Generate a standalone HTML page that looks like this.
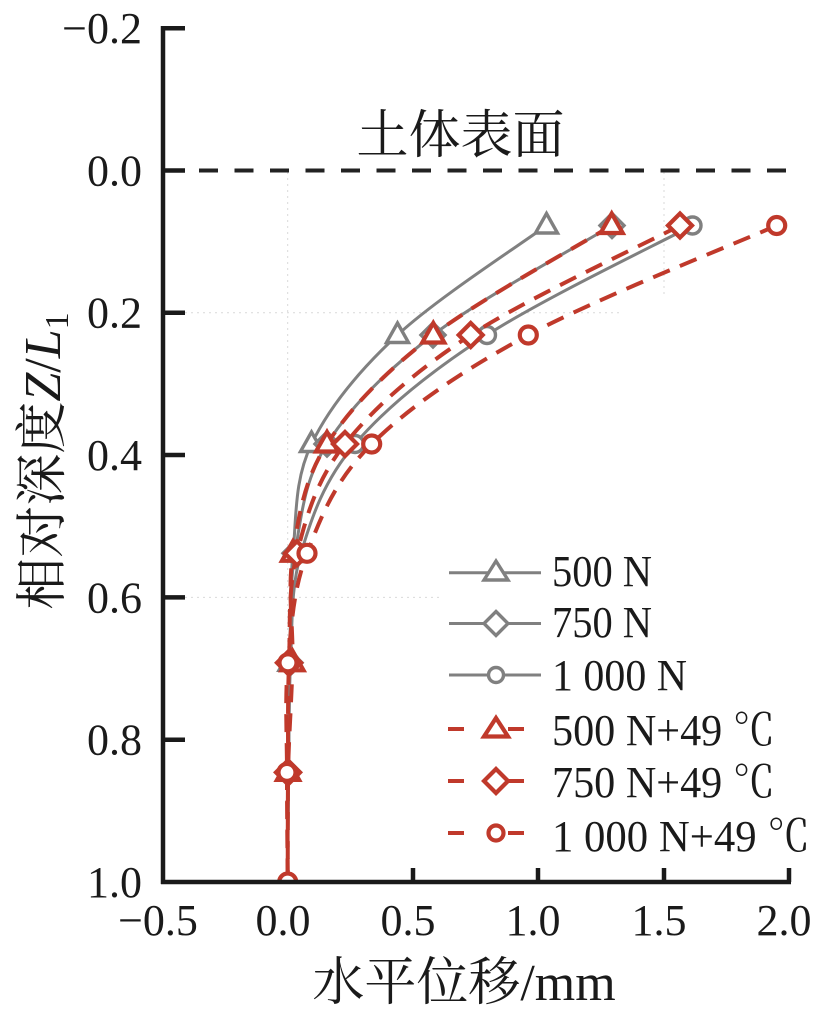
<!DOCTYPE html>
<html>
<head>
<meta charset="utf-8">
<style>
  html,body{margin:0;padding:0;background:#fff;}
  svg{display:block;}
  .tk{font-family:"Liberation Serif","Noto Serif CJK SC",serif;font-size:44px;fill:#1a1a1a;}
  .cjk{font-family:"Liberation Serif","Noto Serif CJK SC",serif;fill:#1a1a1a;}
</style>
</head>
<body>
<svg id="chart" width="831" height="1017" viewBox="0 0 831 1017" xmlns="http://www.w3.org/2000/svg">
  <defs>
    <clipPath id="plotclip"><rect x="163" y="0" width="668" height="880"/></clipPath>
  </defs>
  <rect width="831" height="1017" fill="#fff"/>

  <!-- faint grid -->
  <g stroke="#d9d9d9" stroke-width="1" stroke-dasharray="2 4">
    <line x1="287.7" y1="172" x2="287.7" y2="880"/>
    <line x1="185" y1="312.7" x2="620" y2="312.7"/>
    <line x1="185" y1="597.4" x2="440" y2="597.4"/>
    <line x1="664" y1="172" x2="664" y2="295"/>
  </g>

  <!-- zero dashed line -->
  <line x1="199" y1="170.5" x2="790" y2="170.5" stroke="#222" stroke-width="4" stroke-dasharray="19 16.5"/>

  <!-- series -->
  <g id="series" clip-path="url(#plotclip)"></g>

  <!-- axes -->
  <g stroke="#1a1a1a" stroke-width="4.5" fill="none">
    <line x1="163" y1="26" x2="163" y2="884"/>
    <line x1="161" y1="882" x2="791" y2="882"/>
    <line x1="163" y1="28.3" x2="185" y2="28.3"/>
    <line x1="163" y1="170.5" x2="185" y2="170.5"/>
    <line x1="163" y1="312.7" x2="185" y2="312.7"/>
    <line x1="163" y1="455" x2="185" y2="455"/>
    <line x1="163" y1="597.4" x2="185" y2="597.4"/>
    <line x1="163" y1="739.7" x2="185" y2="739.7"/>
    <line x1="413" y1="868" x2="413" y2="882"/>
    <line x1="538" y1="868" x2="538" y2="882"/>
    <line x1="664" y1="868" x2="664" y2="882"/>
    <line x1="789" y1="868" x2="789" y2="882"/>
  </g>

  <!-- y tick labels -->
  <g class="tk" text-anchor="end">
    <text x="142" y="43">−0.2</text>
    <text x="142" y="185.5">0.0</text>
    <text x="142" y="327.7">0.2</text>
    <text x="142" y="470">0.4</text>
    <text x="142" y="612.4">0.6</text>
    <text x="142" y="754.7">0.8</text>
    <text x="142" y="897">1.0</text>
  </g>

  <!-- x tick labels -->
  <g class="tk" text-anchor="middle">
    <text x="158" y="935">−0.5</text>
    <text x="283" y="935">0.0</text>
    <text x="408" y="935">0.5</text>
    <text x="533" y="935">1.0</text>
    <text x="659" y="935">1.5</text>
    <text x="784" y="935">2.0</text>
  </g>

  <!-- title inside -->
  <text class="cjk" x="460.5" y="153" font-size="52" text-anchor="middle">土体表面</text>

  <!-- x axis label -->
  <text class="cjk" x="464" y="1000" font-size="52" text-anchor="middle">水平位移/mm</text>

  <!-- y axis label -->
  <text class="cjk" font-size="52" text-anchor="middle" transform="translate(60,461) rotate(-90)">相对深度<tspan font-style="italic">Z</tspan>/<tspan font-style="italic">L</tspan><tspan font-size="34" dy="8">1</tspan></text>

  <!-- legend -->
  <g id="legend">
    <g stroke="#808080" stroke-width="3" fill="#fff">
      <line x1="449" y1="572.7" x2="541" y2="572.7"/>
      <line x1="449" y1="623.5" x2="541" y2="623.5"/>
      <line x1="449" y1="675" x2="541" y2="675"/>
      <polygon points="496,561 508,580 484,580" stroke-width="3.4"/>
      <polygon points="496,611.5 508,623.5 496,635.5 484,623.5" stroke-width="3.4"/>
      <circle cx="496" cy="675" r="7.5" stroke-width="3.4"/>
    </g>
    <g stroke="#c0392b" stroke-width="4" fill="#fff">
      <line x1="448" y1="729" x2="464" y2="729"/>
      <line x1="508" y1="729" x2="524" y2="729"/>
      <line x1="448" y1="781" x2="464" y2="781"/>
      <line x1="508" y1="781" x2="524" y2="781"/>
      <line x1="448" y1="833" x2="464" y2="833"/>
      <line x1="508" y1="833" x2="524" y2="833"/>
      <polygon points="496,718 508,736.5 484,736.5" stroke-width="4.2"/>
      <polygon points="496,769 508,781 496,793 484,781" stroke-width="4.2"/>
      <circle cx="496" cy="833" r="7.5" stroke-width="4.2"/>
    </g>
    <g class="tk">
      <text x="552" y="586" textLength="100" lengthAdjust="spacingAndGlyphs">500 N</text>
      <text x="552" y="637" textLength="100" lengthAdjust="spacingAndGlyphs">750 N</text>
      <text x="552" y="690" textLength="135" lengthAdjust="spacingAndGlyphs">1 000 N</text>
      <text x="552" y="745" textLength="223" lengthAdjust="spacingAndGlyphs">500 N+49 ℃</text>
      <text x="552" y="797" textLength="223" lengthAdjust="spacingAndGlyphs">750 N+49 ℃</text>
      <text x="552" y="851" textLength="258" lengthAdjust="spacingAndGlyphs">1 000 N+49 ℃</text>
    </g>
  </g>
</svg>
<script>
(function(){
  var NS="http://www.w3.org/2000/svg";
  var g=document.getElementById("series");
  var Y=[225.5,335,444,553.3,662.8,772.4,882];
  var GREY="#808080", RED="#c0392b";
  var S=[
    {x:[546.5,397.5,311.5,293,290,288.5,287.7],c:GREY,m:"tri",d:false},
    {x:[612,433,327,295,290,288.5,287.7],c:GREY,m:"dia",d:false},
    {x:[692.5,487,355,301,290.5,288.5,287.7],c:GREY,m:"cir",d:false},
    {x:[611.7,433.3,327,293,292.5,288,287.7],c:RED,m:"tri",d:true},
    {x:[680,470.7,345,297,289,288,287.7],c:RED,m:"dia",d:true},
    {x:[776.7,528.3,371.7,307,288,287,287.7],c:RED,m:"cir",d:true}
  ];
  function path(xs){
    var n=xs.length, p=[];
    for(var i=0;i<n;i++)p.push([xs[i],Y[i]]);
    var s="M"+p[0][0]+","+p[0][1];
    for(var i=0;i<n-1;i++){
      var p0=p[Math.max(i-1,0)],p1=p[i],p2=p[i+1],p3=p[Math.min(i+2,n-1)];
      var c1x=p1[0]+(p2[0]-p0[0])/6,c1y=p1[1]+(p2[1]-p0[1])/6;
      var c2x=p2[0]-(p3[0]-p1[0])/6,c2y=p2[1]-(p3[1]-p1[1])/6;
      s+=" C"+c1x.toFixed(2)+","+c1y.toFixed(2)+" "+c2x.toFixed(2)+","+c2y.toFixed(2)+" "+p2[0]+","+p2[1];
    }
    return s;
  }
  function el(tag,attrs){var e=document.createElementNS(NS,tag);for(var k in attrs)e.setAttribute(k,attrs[k]);return e;}
  S.forEach(function(s){
    var pa=el("path",{d:path(s.x),fill:"none",stroke:s.c,"stroke-width":s.d?4:3});
    if(s.d)pa.setAttribute("stroke-dasharray","18 11");
    g.appendChild(pa);
    var sw=s.d?4.2:3.4;
    for(var i=0;i<s.x.length;i++){
      var cx=s.x[i],cy=Y[i],m;
      if(i===s.x.length-1 && s.m!=="cir") continue;
      if(s.m==="tri"){
        m=el("polygon",{points:cx+","+(cy-12)+" "+(cx+11)+","+(cy+7.5)+" "+(cx-11)+","+(cy+7.5)});
      }else if(s.m==="dia"){
        m=el("polygon",{points:cx+","+(cy-12)+" "+(cx+12)+","+cy+" "+cx+","+(cy+12)+" "+(cx-12)+","+cy});
      }else{
        m=el("circle",{cx:cx,cy:cy,r:8.5});
      }
      m.setAttribute("fill","#fff");m.setAttribute("stroke",s.c);m.setAttribute("stroke-width",sw);
      g.appendChild(m);
    }
  });
})();
</script>
</body>
</html>
